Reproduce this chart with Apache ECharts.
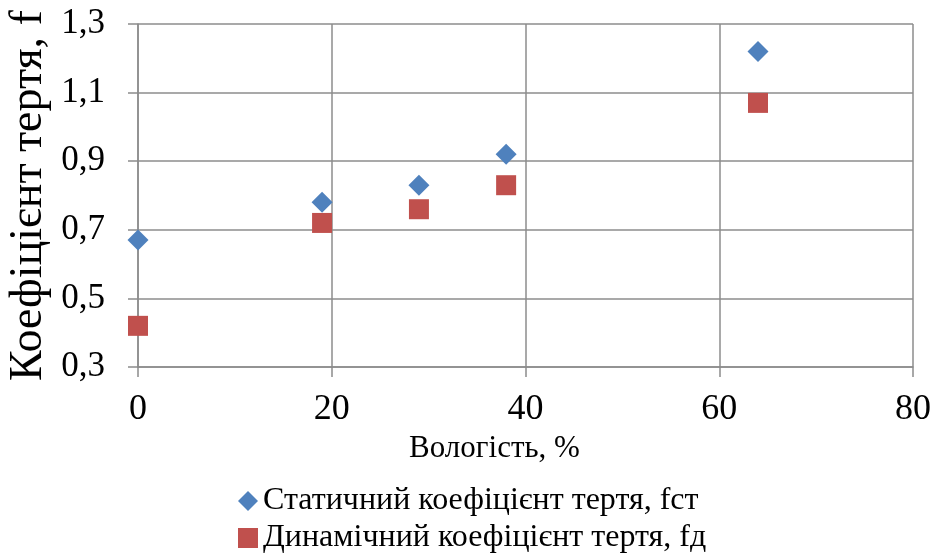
<!DOCTYPE html>
<html><head><meta charset="utf-8">
<script src="https://cdn.jsdelivr.net/npm/echarts@6/dist/echarts.min.js"></script>
<style>html,body{margin:0;padding:0;background:#fff}#c{width:935px;height:553px}</style>
</head><body><div id="c"></div>
<script>
const moisture = [0, 19, 29, 38, 64];
const staticCoef = [0.67, 0.78, 0.83, 0.92, 1.22];
const dynamicCoef = [0.42, 0.72, 0.76, 0.83, 1.07];
const seriesNames = ['Статичний коефіцієнт тертя, fст', 'Динамічний коефіцієнт тертя, fд'];
const xName = 'Вологість, %';
const yName = 'Коефіцієнт тертя, f';

const font = '"Liberation Serif", "Times New Roman", serif';
const chart = echarts.init(document.getElementById('c'));
const pts = (xs, ys) => xs.map((x, i) => [x, ys[i]]);
const lineCol = '#8c8c8c';
const legendText = { fontFamily: font, fontSize: 32, color: '#000' };
chart.setOption({
  animation: false,
  textStyle: { fontFamily: font, color: '#000' },
  grid: { left: 138, right: 22, top: 24, bottom: 186, containLabel: false, outerBoundsMode: 'none' },
  xAxis: {
    type: 'value', min: 0, max: 80, interval: 20,
    name: xName, nameLocation: 'middle', nameGap: 66, nameMoveOverlap: false,
    nameTextStyle: { fontFamily: font, fontSize: 31, color: '#000', padding: [0, 62, 0, 0] },
    axisLine: { show: true, lineStyle: { color: lineCol, width: 1.5 } },
    axisTick: { show: true, length: 10, lineStyle: { color: lineCol, width: 1.5 } },
    axisLabel: { fontFamily: font, fontSize: 36, color: '#000', margin: 25 },
    splitLine: { show: true, lineStyle: { color: lineCol, width: 1.5 } }
  },
  yAxis: {
    type: 'value', min: 0.3, max: 1.3, interval: 0.2,
    name: yName, nameLocation: 'middle', nameGap: 86, nameRotate: 90, nameMoveOverlap: false,
    nameTextStyle: { fontFamily: font, fontSize: 46, color: '#000' },
    axisLine: { show: true, lineStyle: { color: lineCol, width: 1.5 } },
    axisTick: { show: true, length: 10, lineStyle: { color: lineCol, width: 1.5 } },
    axisLabel: { fontFamily: font, fontSize: 35, color: '#000', margin: 33,
      formatter: v => v.toFixed(1).replace('.', ',') },
    splitLine: { show: true, lineStyle: { color: lineCol, width: 1.5 } }
  },
  legend: [
    { left: 233, top: 480, itemWidth: 20, itemHeight: 20, itemGap: 5, textStyle: legendText,
      data: [{ name: seriesNames[0], icon: 'diamond' }] },
    { left: 233, top: 517, itemWidth: 20, itemHeight: 20, itemGap: 5, textStyle: legendText,
      data: [{ name: seriesNames[1], icon: 'rect' }] }
  ],
  series: [
    { name: seriesNames[0], type: 'scatter', symbol: 'diamond', symbolSize: 21,
      itemStyle: { color: '#4F81BD', opacity: 1 }, data: pts(moisture, staticCoef) },
    { name: seriesNames[1], type: 'scatter', symbol: 'rect', symbolSize: 20,
      itemStyle: { color: '#C0504D', opacity: 1 }, data: pts(moisture, dynamicCoef) }
  ]
});
</script></body></html>
